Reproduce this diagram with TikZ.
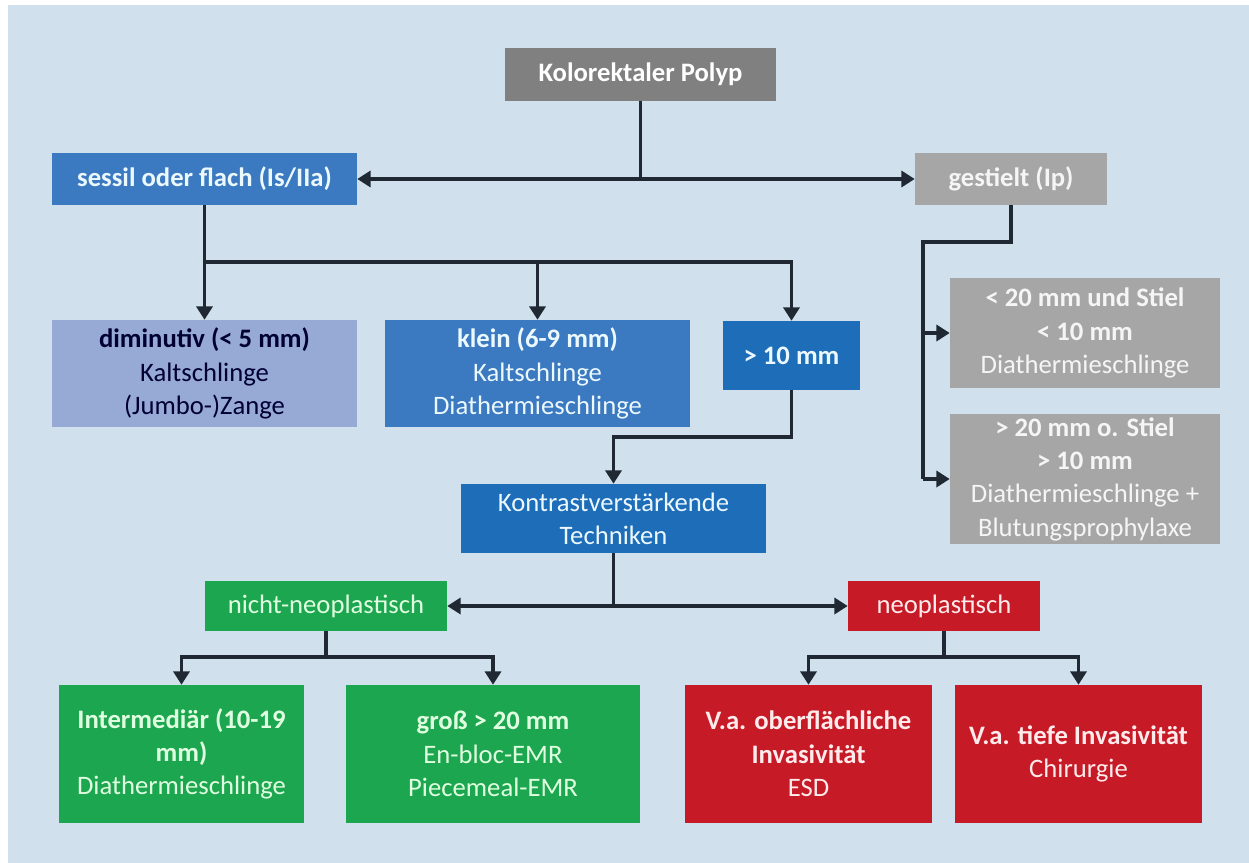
\documentclass[tikz,border=0pt]{standalone}
\usepackage{fontspec}
\setmainfont{Carlito}
\usetikzlibrary{arrows.meta}
\definecolor{fondo}{HTML}{D0E1ED}
\definecolor{grisos}{HTML}{808080}
\definecolor{griscl}{HTML}{A6A6A6}
\definecolor{azul}{HTML}{3B79C0}
\definecolor{azulos}{HTML}{1E6DB8}
\definecolor{lila}{HTML}{97AAD6}
\definecolor{verde}{HTML}{1DA650}
\definecolor{rojo}{HTML}{C61A27}
\definecolor{linea}{HTML}{1F2833}
\newdimen\pxu \pxu=0.75pt
\begin{document}
\begin{tikzpicture}[x=0.75pt,y=-0.75pt,
>={Triangle[width=12pt,length=10pt]}]
\tikzstyle{every node}=[rectangle, inner sep=0pt, align=center, font=\fontsize{20}{25}\selectfont]% cada caja
\tikzstyle{gris oscuro}=[fill=grisos, text=white]
\tikzstyle{gris}=[fill=griscl, text=white!96!black]
\tikzstyle{azul}=[fill=azul, text=white!92!cyan]
\tikzstyle{azul oscuro}=[fill=azulos, text=white!92!cyan]
\tikzstyle{lila}=[fill=lila, text=black!80!blue]
\tikzstyle{verde}=[fill=verde, text=white!88!green]
\tikzstyle{rojo}=[fill=rojo, text=white!92!red]
\tikzstyle{conexion}=[draw=linea, line width=2.6pt] % flechas y lineas
\fill[white] (0,0) rectangle (1249,863);
\fill[fondo] (8,5) rectangle (1249,863);% fondo
\node[gris oscuro, minimum width=271\pxu, minimum height=53\pxu] (polyp) at (640.5,74.5) {\textbf{Kolorektaler Polyp}};
\node[azul, minimum width=305\pxu, minimum height=52\pxu] (sessil) at (204.5,179) {\textbf{sessil oder flach (Is/IIa)}};
\node[gris, minimum width=192\pxu, minimum height=52\pxu] (gestielt) at (1011,179) {\textbf{gestielt (Ip)}};
% rama sessil
\node[lila, minimum width=305\pxu, minimum height=107\pxu] (dimin) at (204.5,373.5) {\textbf{diminutiv (< 5 mm)}\\Kaltschlinge\\(Jumbo-)Zange};
\node[azul, minimum width=305\pxu, minimum height=107\pxu] (klein) at (537.5,373.5) {\textbf{klein (6-9 mm)}\\Kaltschlinge\\Diathermieschlinge};
\node[azul oscuro, minimum width=137\pxu, minimum height=69\pxu] (zehn) at (791.5,355.5) {\textbf{> 10 mm}};
\node[azul oscuro, minimum width=305\pxu, minimum height=69\pxu] (kontrast) at (613.5,518.5) {Kontrastverstärkende\\Techniken};
\node[verde, minimum width=242\pxu, minimum height=50\pxu] (nichtneo) at (326,606) {nicht-neoplastisch};
\node[rojo, minimum width=192\pxu, minimum height=50\pxu] (neo) at (944,606) {neoplastisch};
\node[verde, minimum width=245\pxu, minimum height=138\pxu] (interm) at (181.5,754) {\textbf{Intermediär (10-19}\\\textbf{mm)}\\Diathermieschlinge};
\node[verde, minimum width=294\pxu, minimum height=138\pxu] (gross) at (493,754) {\textbf{groß > 20 mm}\\En-bloc-EMR\\Piecemeal-EMR};
\node[rojo, minimum width=247\pxu, minimum height=138\pxu] (ober) at (808.5,754) {\textbf{V.a. oberflächliche}\\\textbf{Invasivität}\\ESD};
\node[rojo, minimum width=247\pxu, minimum height=138\pxu] (tief) at (1078.5,754) {\textbf{V.a. tiefe Invasivität}\\Chirurgie};
% rama gestielt
\node[gris, minimum width=270\pxu, minimum height=110\pxu] (stielA) at (1085,333) {\textbf{< 20 mm und Stiel}\\\textbf{< 10 mm}\\Diathermieschlinge};
\node[gris, minimum width=270\pxu, minimum height=130\pxu] (stielB) at (1085,479) {\textbf{> 20 mm o. Stiel}\\\textbf{> 10 mm}\\Diathermieschlinge +\\Blutungsprophylaxe};
\coordinate (s1) at (204.5,262);
\coordinate (k1) at (613.5,437);
\coordinate (n1) at (326,657);
\coordinate (n2) at (944,657);
\coordinate (g1) at (923,242);
\draw[conexion, <->] (sessil.east) -- (gestielt.west);
\draw[conexion] (polyp.south) -- (polyp.south |- sessil.east);
\draw[conexion] (sessil.south) -- (s1);
\draw[conexion, ->] (s1) -- (dimin.north);
\draw[conexion, ->] (s1) -| (klein.north);
\draw[conexion, ->] (s1) -| (zehn.north);
\draw[conexion, ->] (zehn.south) |- (k1) -- (kontrast.north);
\draw[conexion, <->] (nichtneo.east) -- (neo.west);
\draw[conexion] (kontrast.south) -- (kontrast.south |- neo.west);
\draw[conexion] (nichtneo.south) -- (n1);
\draw[conexion, ->] (n1) -| (interm.north);
\draw[conexion, ->] (n1) -| (gross.north);
\draw[conexion] (neo.south) -- (n2);
\draw[conexion, ->] (n2) -| (ober.north);
\draw[conexion, ->] (n2) -| (tief.north);
\draw[conexion] (gestielt.south) |- (g1) -- (g1 |- stielB.west);
\draw[conexion, ->] (g1 |- stielA.west) -- (stielA.west);
\draw[conexion, ->] (g1 |- stielB.west) -- (stielB.west);
\end{tikzpicture}
\end{document}
